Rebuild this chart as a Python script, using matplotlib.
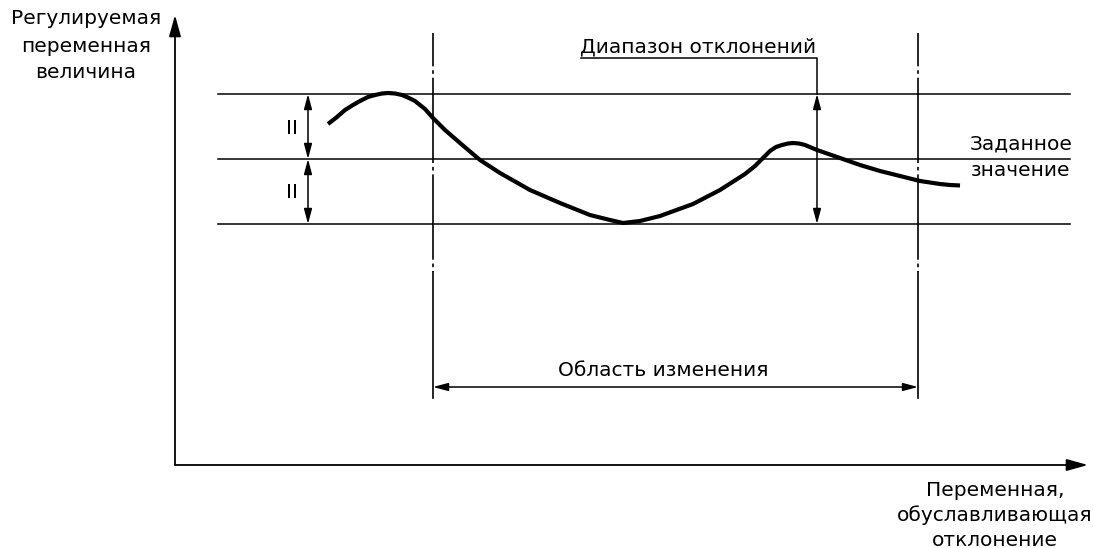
import matplotlib
matplotlib.use("Agg")
import matplotlib.pyplot as plt

plt.rcParams["font.family"] = ["DejaVu Sans"]
plt.rcParams["lines.scale_dashes"] = False

# кривая регулируемой величины (пиксели исходного рисунка)
curve_x = [328, 337, 345, 353, 360, 368, 375, 382, 388, 395, 402, 409, 415, 420,
           425, 433, 445, 460, 480, 500, 530, 560, 590, 610, 623, 640, 660, 693,
           720, 745, 755, 763, 770, 776, 782, 788, 793, 799, 805, 817, 840, 860,
           880, 900, 920, 940, 950, 960]
curve_y = [124, 117, 110, 105, 101, 97, 95, 93.5, 93, 93.5, 95, 98, 101, 105,
           109, 118, 130, 143, 160, 173, 190, 203, 215, 220, 223, 221, 216, 204,
           190, 174, 166, 158, 151, 147, 145, 143.5, 143, 143.5, 145, 150, 158, 165,
           171, 176, 181, 184, 185, 185.5]

band_y = [94, 159, 224]          # верх, заданное значение, низ
band_x = [218, 1070]
region_x = [433, 918]            # границы области изменения
region_y = [33, 272, 398]        # начало, конец штрихпунктира, низ
axis_origin = (175, 465)
axis_end_x = 1088
axis_end_y = 15

fig = plt.figure(figsize=(10.93, 5.48), dpi=100)
ax = fig.add_axes([0, 0, 1, 1])
ax.set_xlim(0, 1093)
ax.set_ylim(548, 0)
ax.axis("off")

LW = 1.1
FS = 14.5


def arrow(x0, y0, x1, y1, style, hl=9, hw=2.4, lw=LW):
    ax.annotate("", xy=(x1, y1), xytext=(x0, y0),
                arrowprops=dict(arrowstyle=f"{style},head_length={hl},head_width={hw}",
                                color="black", lw=lw, shrinkA=0, shrinkB=0,
                                mutation_scale=1))


# оси
arrow(axis_origin[0], axis_origin[1], axis_origin[0], axis_end_y, "-|>", hl=13, hw=3.6, lw=1.3)
arrow(axis_origin[0], axis_origin[1], axis_end_x, axis_origin[1], "-|>", hl=13, hw=3.6, lw=1.3)

# горизонтальные уровни
for y in band_y:
    ax.plot(band_x, [y, y], color="black", lw=LW)

# вертикальные штрихпунктирные линии (внизу сплошные)
for x in region_x:
    ax.plot([x, x], region_y[:2], color="black", lw=1.2,
            linestyle=(37.4, (61.4, 2.8, 2.6, 2.8)))
    ax.plot([x, x], region_y[1:], color="black", lw=1.2)

# кривая
ax.plot(curve_x, curve_y, color="black", lw=3.0, solid_capstyle="butt",
        solid_joinstyle="round")

# допуски II
arrow(308, band_y[0], 308, band_y[1], "<|-|>")
arrow(308, band_y[1], 308, band_y[2], "<|-|>")
ax.text(292, 129, "II", ha="center", va="center", fontsize=FS)
ax.text(292, 192, "II", ha="center", va="center", fontsize=FS)

# диапазон отклонений
ax.text(698, 52, "Диапазон отклонений", ha="center", va="baseline", fontsize=FS)
ax.plot([581, 817, 817], [58, 58, band_y[0]], color="black", lw=LW)
arrow(817, band_y[0], 817, band_y[2], "<|-|>")

# заданное значение
ax.text(1021, 144, "Заданное", ha="center", va="center", fontsize=FS)
ax.text(1021, 170, "значение", ha="center", va="center", fontsize=FS)

# область изменения
ax.text(663, 370, "Область изменения", ha="center", va="center", fontsize=FS)
arrow(region_x[0], 387, region_x[1], 387, "<|-|>")

# подписи осей
for yy, s in zip([18, 46, 73], ["Регулируемая", "переменная", "величина"]):
    ax.text(86, yy, s, ha="center", va="center", fontsize=FS)
for yy, s in zip([490, 515, 540], ["Переменная,", "обуславливающая", "отклонение"]):
    ax.text(995, yy, s, ha="center", va="center", fontsize=FS)

fig.savefig("out.png", dpi=100)
